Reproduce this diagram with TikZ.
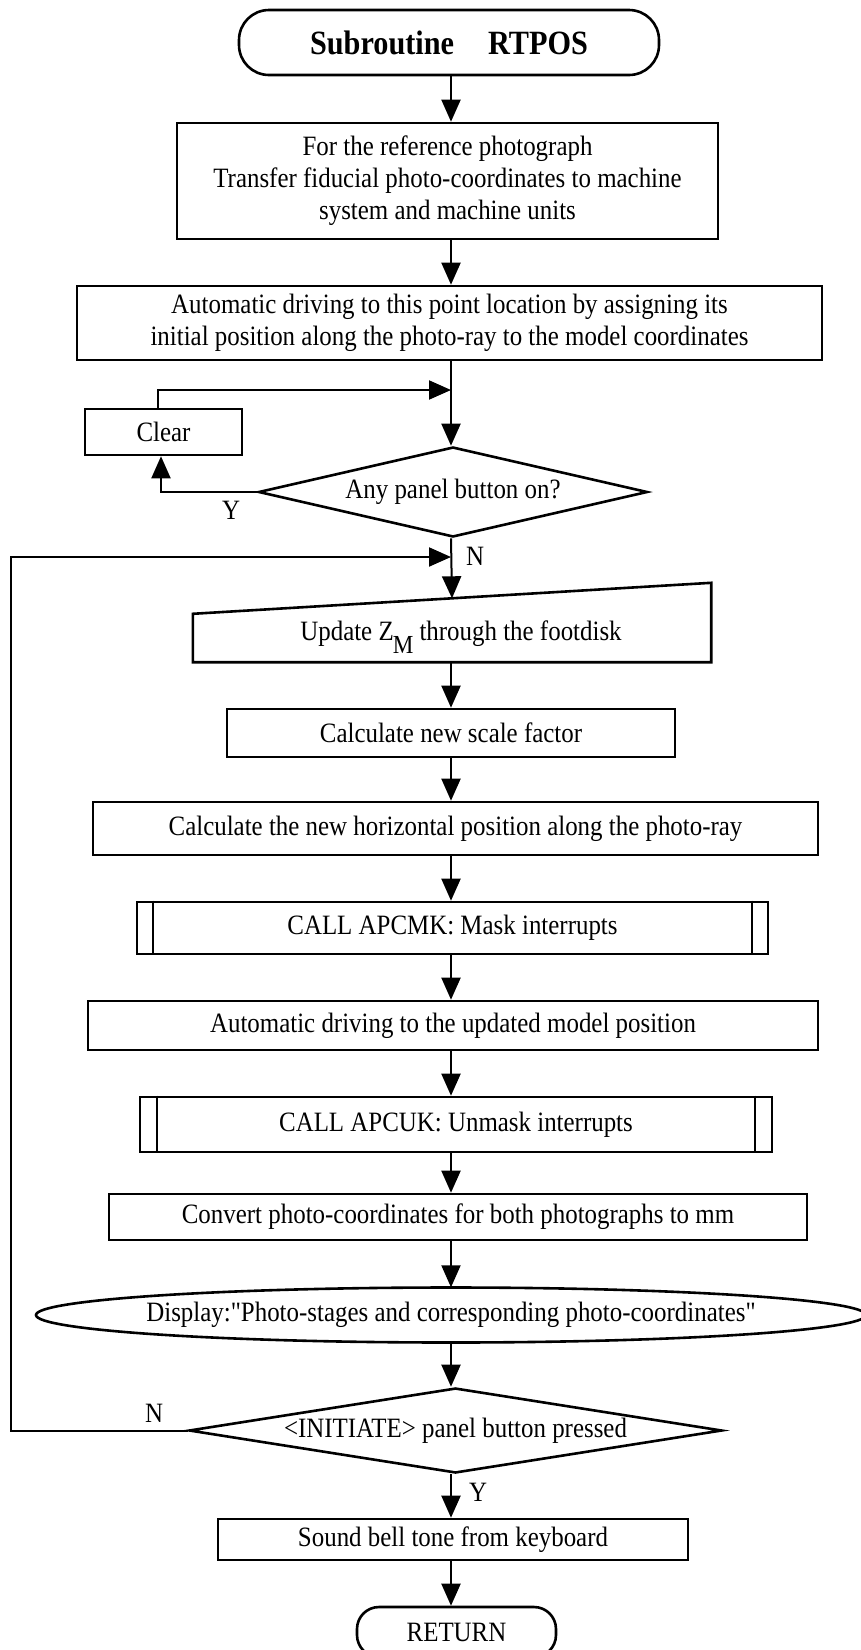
\documentclass[tikz,border=0pt]{standalone}
\usepackage{fontspec}
\setmainfont{Liberation Serif}[FakeStretch=0.89, Ligatures=TeXOff]
\usetikzlibrary{arrows.meta,shapes.geometric,calc}

% text sizes of the chart
\newcommand\bodyfont{\fontsize{28}{32}\selectfont}
\newcommand\titlefont{\fontsize{34}{38}\selectfont\bfseries}

\tikzset{
  shapeline/.style={line width=2.6pt},
  flowline/.style={line width=2pt},
  flowbox/.style={draw, shapeline, rectangle, inner sep=0pt, align=center, font=\bodyfont},
  termbox/.style={flowbox, rounded corners=#1},
  decision/.style={draw, shapeline, diamond, inner sep=0pt, align=center, font=\bodyfont},
  plainnode/.style={rectangle, inner sep=0pt, align=center, font=\bodyfont},
  flowarrow/.style={flowline, -{Triangle[length=22pt,width=19pt]}},
  branchlabel/.style={font=\bodyfont, inner sep=0pt},
}

\begin{document}
\begin{tikzpicture}[x=1pt, y=-1pt]
\useasboundingbox (0,0) rectangle (861,1650);
\fill[white] (0,0) rectangle (861,1650);

% main vertical flow axis and junction points
\coordinate (axis) at (451,0);
\coordinate (join1) at (451,390);
\coordinate (join2) at (451,557);
\coordinate (loopx) at (11,0);

% ---- nodes ----
\node[termbox=30pt, minimum width=420pt, minimum height=65pt, font=\titlefont]
  (start) at (449,42.5) {Subroutine\hspace{1em}RTPOS};

\node[flowbox, minimum width=541pt, minimum height=116pt] (ref) at (447.5,181)
  {For the reference photograph\\Transfer fiducial photo-coordinates to machine\\system and machine units};

\node[flowbox, minimum width=745pt, minimum height=74pt] (drive) at (449.5,323)
  {Automatic driving to this point location by assigning its\\initial position along the photo-ray to the model coordinates};

\node[flowbox, minimum width=157pt, minimum height=46pt] (clear) at (163.5,432) {Clear};

\node[decision, shape aspect=4.3, minimum width=389pt, minimum height=90pt]
  (anyon) at (453,492) {Any panel button on?};

% manual input (slanted top edge)
\node[plainnode, minimum width=518pt, minimum height=79pt] (update) at (452,622.5) {};
\coordinate (updtl) at ($(update.north west)+(0,31)$);
\coordinate (updtop) at ($(updtl)!0.5!(update.north east)$);
\draw[shapeline] (update.south west) -- (updtl) -- (update.north east)
  -- (update.south east) -- cycle;
\node[plainnode, anchor=base] (updtext) at (461,640)
  {Update Z\kern-1pt\raisebox{-13pt}{\fontsize{26}{26}\selectfont M} through the footdisk};

\node[flowbox, minimum width=448pt, minimum height=48pt] (scale) at (451,733)
  {Calculate new scale factor};

\node[flowbox, minimum width=725pt, minimum height=53pt] (horiz) at (455.5,828.5)
  {Calculate the new horizontal position along the photo-ray};

\node[flowbox, minimum width=631pt, minimum height=52pt] (mask) at (452.5,928)
  {CALL APCMK: Mask interrupts};
\draw[flowline] ([xshift=17pt]mask.north west) -- ([xshift=17pt]mask.south west);
\draw[flowline] ([xshift=-17pt]mask.north east) -- ([xshift=-17pt]mask.south east);

\node[flowbox, minimum width=730pt, minimum height=49pt] (autom) at (453,1025.5)
  {Automatic driving to the updated model position};

\node[flowbox, minimum width=632pt, minimum height=55pt] (unmask) at (456,1124.5)
  {CALL APCUK: Unmask interrupts};
\draw[flowline] ([xshift=18pt]unmask.north west) -- ([xshift=18pt]unmask.south west);
\draw[flowline] ([xshift=-18pt]unmask.north east) -- ([xshift=-18pt]unmask.south east);

\node[flowbox, minimum width=698pt, minimum height=46pt] (convert) at (458,1217)
  {Convert photo-coordinates for both photographs to mm};

% display (wide ellipse)
\node[plainnode, minimum width=830pt, minimum height=55pt] (display) at (451,1315)
  {Display:"Photo-stages and corresponding photo-coordinates"};
\draw[shapeline] (display.center) ellipse [x radius=415pt, y radius=27.5pt];

\node[decision, shape aspect=6.27, minimum width=533pt, minimum height=85pt]
  (initiate) at (455.5,1430.5) {<INITIATE> panel button pressed};

\node[flowbox, minimum width=470pt, minimum height=41pt] (bell) at (453,1539.5)
  {Sound bell tone from keyboard};

\node[termbox=22pt, minimum width=199pt, minimum height=50pt] (finish) at (456.5,1632)
  {RETURN};

% ---- connectors ----
\draw[flowarrow] (start.south -| axis) -- (ref.north -| axis);
\draw[flowarrow] (ref.south -| axis) -- (drive.north -| axis);
\draw[flowarrow] (drive.south -| axis) -- (anyon.north -| axis);
\draw[flowarrow] ([xshift=-5.5pt]clear.north) |- (join1);
\draw[flowarrow] (anyon.west) -| ([xshift=-2.5pt]clear.south);
\draw[flowarrow] (anyon.south -| axis) -- (updtop);
\draw[flowarrow] (update.south -| axis) -- (scale.north -| axis);
\draw[flowarrow] (scale.south -| axis) -- (horiz.north -| axis);
\draw[flowarrow] (horiz.south -| axis) -- (mask.north -| axis);
\draw[flowarrow] (mask.south -| axis) -- (autom.north -| axis);
\draw[flowarrow] (autom.south -| axis) -- (unmask.north -| axis);
\draw[flowarrow] (unmask.south -| axis) -- (convert.north -| axis);
\draw[flowarrow] (convert.south -| axis) -- (display.north -| axis);
\draw[flowarrow] (display.south -| axis) -- (initiate.north -| axis);
\draw[flowarrow] (initiate.west) -| (loopx |- join2) -- (join2);
\draw[flowarrow] (initiate.south -| axis) -- (bell.north -| axis);
\draw[flowarrow] (bell.south -| axis) -- (finish.north -| axis);

% ---- branch labels ----
\node[branchlabel] (ylabA) at (231,510) {Y};
\node[branchlabel] (nlabA) at (475,556) {N};
\node[branchlabel] (nlabB) at (154,1413) {N};
\node[branchlabel] (ylabB) at (478,1492) {Y};
\end{tikzpicture}
\end{document}
